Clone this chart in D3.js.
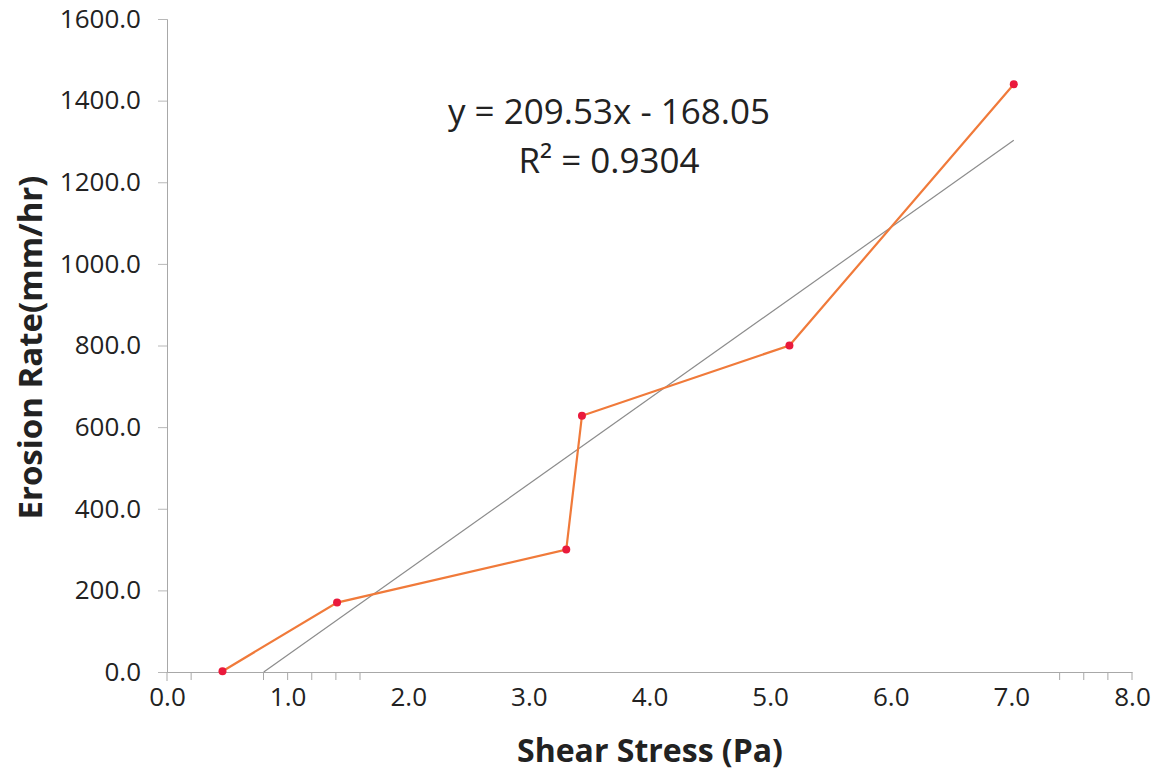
<!DOCTYPE html>
<html>
<head>
<meta charset="utf-8">
<script src="https://cdn.jsdelivr.net/npm/d3@7"></script>
<style>
  body { margin: 0; background: #fff; }
  text { font-family: "Open Sans", sans-serif; fill: #222; }
</style>
</head>
<body>
<div id="chart"></div>
<script>
// measured points
const shearStress = [0.46, 1.41, 3.31, 3.44, 5.16, 7.02];
const erosionRate = [2, 170, 300, 628, 800, 1440];

const xTicks = [0, 1, 2, 3, 4, 5, 6, 7, 8];
const yTicks = [0, 200, 400, 600, 800, 1000, 1200, 1400, 1600];
// only a few minor ticks survive on the x axis
const xMinorTicks = [0.2, 0.8, 1.0, 1.2, 1.4, 1.6, 7.4, 7.6, 7.8, 8.0];

const slope = 209.53, intercept = -168.05;
const eqLines = ["y = 209.53x - 168.05", "R² = 0.9304"];

const width = 1157, height = 771;
const margin = {top: 19, right: 25, bottom: 99, left: 167};

const svg = d3.select('#chart').append('svg')
    .attr('width', width)
    .attr('height', height);

const x = d3.scaleLinear()
    .domain([0, 8])
    .range([margin.left, width - margin.right]);

const y = d3.scaleLinear()
    .domain([0, 1600])
    .range([height - margin.bottom, margin.top]);

// y axis
const yAxis = svg.append('g')
    .attr('transform', `translate(${margin.left},0)`)
    .call(d3.axisLeft(y).tickValues(yTicks).tickFormat(d3.format('.1f')).tickSize(9).tickPadding(17))
yAxis.select('.domain').attr('stroke', '#a8a8a8');
yAxis.selectAll('.tick line').attr('stroke', '#b8b8b8');
yAxis.selectAll('.tick text').style('font-size', '26px').attr('fill', '#222');

// x axis
const xAxis = svg.append('g')
    .attr('transform', `translate(0,${y(0)})`)
    .call(d3.axisBottom(x).tickValues(xTicks).tickFormat(d3.format('.1f')).tickSize(0).tickPadding(16))
xAxis.select('.domain').attr('stroke', '#a8a8a8');
xAxis.selectAll('.tick text').style('font-size', '26px').attr('fill', '#222');

svg.append('g')
    .attr('transform', `translate(0,${y(0)})`)
  .selectAll('line')
  .data(xMinorTicks)
  .join('line')
    .attr('x1', d => x(d))
    .attr('x2', d => x(d))
    .attr('y1', 0)
    .attr('y2', 8)
    .attr('stroke', '#a8a8a8');

svg.append('line')
    .attr('x1', x(0)).attr('x2', x(0))
    .attr('y1', y(0)).attr('y2', y(0) + 9)
    .attr('stroke', '#a8a8a8');

// linear trend line, starting where it crosses zero
const xStart = -intercept / slope;
const xEnd = d3.max(shearStress);
svg.append('line')
    .attr('x1', x(xStart))
    .attr('y1', y(slope * xStart + intercept))
    .attr('x2', x(xEnd))
    .attr('y2', y(slope * xEnd + intercept))
    .attr('stroke', '#8c8c8c')
    .attr('stroke-width', 1.2);

// data line
const data = shearStress.map((d, i) => ({x: d, y: erosionRate[i]}));

svg.append('path')
    .datum(data)
    .attr('fill', 'none')
    .attr('stroke', '#f07a3a')
    .attr('stroke-width', 2.2)
    .attr('d', d3.line().x(d => x(d.x)).y(d => y(d.y)));

svg.selectAll('circle.pt')
  .data(data)
  .join('circle')
    .attr('class', 'pt')
    .attr('cx', d => x(d.x))
    .attr('cy', d => y(d.y))
    .attr('r', 4)
    .attr('fill', '#ea1a3c');

// equation
svg.append('text')
    .attr('x', 609)
    .attr('y', 124)
    .attr('text-anchor', 'middle')
    .style('font-size', '35px')
    .text(eqLines[0]);

svg.append('text')
    .attr('x', 609)
    .attr('y', 173)
    .attr('text-anchor', 'middle')
    .style('font-size', '35px')
    .text(eqLines[1]);

// axis titles
svg.append('text')
    .attr('x', 650)
    .attr('y', 762)
    .attr('text-anchor', 'middle')
    .style('font-size', '32px')
    .style('font-weight', 'bold')
    .text('Shear Stress (Pa)');

svg.append('text')
    .attr('transform', `translate(42,${(y(0) + y(1600)) / 2 + 2}) rotate(-90)`)
    .attr('text-anchor', 'middle')
    .style('font-size', '33px')
    .style('font-weight', 'bold')
    .text('Erosion Rate(mm/hr)');
</script>
</body>
</html>
